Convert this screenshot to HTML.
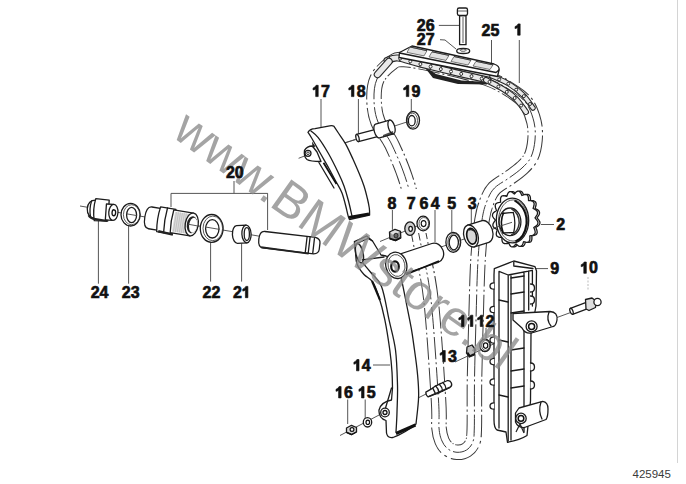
<!DOCTYPE html>
<html><head><meta charset="utf-8"><style>
html,body{margin:0;padding:0;background:#fff;}
svg{display:block;}
</style></head><body>
<svg width="686" height="484" viewBox="0 0 686 484">
<rect width="686" height="484" fill="#fff"/>
<defs><style>
.o{fill:#fff;stroke:#1c1c1c;stroke-width:1.3;stroke-linejoin:round;stroke-linecap:round}
.on{fill:none;stroke:#1c1c1c;stroke-width:1.3;stroke-linejoin:round;stroke-linecap:round}
.t{fill:none;stroke:#333;stroke-width:0.8}
.l{stroke:#555;stroke-width:1;fill:none}
.ax{stroke:#444;stroke-width:0.9;fill:none}
.dk{fill:#222;stroke:none}
.gr{fill:#cfcfcf;stroke:none}
</style></defs>
<line class="l" x1="438.8" y1="25.4" x2="459.2" y2="25.4"/>
<line class="l" x1="491.5" y1="40.0" x2="491.5" y2="65.0"/>
<line class="l" x1="519.3" y1="40.0" x2="519.3" y2="83.0"/>
<line class="l" x1="321.0" y1="99.0" x2="321.0" y2="127.5"/>
<line class="l" x1="358.4" y1="99.0" x2="358.4" y2="134.0"/>
<line class="l" x1="411.3" y1="99.0" x2="411.3" y2="111.5"/>
<line class="l" x1="234.0" y1="181.0" x2="234.0" y2="193.4"/>
<line class="l" x1="171.0" y1="193.4" x2="267.8" y2="193.4"/>
<line class="l" x1="171.0" y1="193.4" x2="171.0" y2="207.0"/>
<line class="l" x1="267.6" y1="193.4" x2="267.6" y2="230.0"/>
<line class="l" x1="98.4" y1="221.0" x2="98.4" y2="283.7"/>
<line class="l" x1="128.6" y1="226.0" x2="128.6" y2="283.7"/>
<line class="l" x1="210.6" y1="241.0" x2="210.6" y2="281.6"/>
<line class="l" x1="241.6" y1="243.4" x2="241.6" y2="281.6"/>
<line class="l" x1="392.4" y1="210.0" x2="392.4" y2="229.8"/>
<line class="l" x1="410.5" y1="210.0" x2="410.5" y2="222.4"/>
<line class="l" x1="424.6" y1="210.0" x2="424.6" y2="216.6"/>
<line class="l" x1="435.0" y1="210.0" x2="435.0" y2="242.0"/>
<line class="l" x1="451.8" y1="210.0" x2="451.8" y2="232.5"/>
<line class="l" x1="471.3" y1="209.0" x2="471.3" y2="224.0"/>
<line class="l" x1="541.0" y1="224.5" x2="554.0" y2="224.5"/>
<line class="l" x1="373.0" y1="365.0" x2="390.0" y2="365.0"/>
<line class="l" x1="347.7" y1="399.5" x2="347.7" y2="424.0"/>
<line class="l" x1="365.2" y1="399.5" x2="365.2" y2="419.5"/>
<line class="l" x1="469.0" y1="328.0" x2="469.0" y2="347.0"/>
<line class="l" x1="486.0" y1="328.0" x2="486.0" y2="338.0"/>
<line class="l" x1="534.8" y1="268.6" x2="548.0" y2="268.6"/>
<path class="l" d="M440,39.7 L445,40 L456,49"/>
<path d="M391.0,63.5 C395.5,60.2 395.8,59.1 404.0,59.5 C412.2,59.9 426.3,62.9 440.0,66.0 C453.7,69.1 474.3,74.0 486.0,78.0 C497.7,82.0 503.3,85.8 510.0,90.0 C516.7,94.2 522.0,97.7 526.0,103.0 C530.0,108.3 532.5,115.8 534.0,122.0 C535.5,128.2 535.5,134.2 535.0,140.0 C534.5,145.8 533.2,152.3 531.0,157.0 C528.8,161.7 525.7,164.5 522.0,168.0 C518.3,171.5 513.6,174.7 509.0,178.0 C504.4,181.3 498.2,184.2 494.5,188.0 C490.8,191.8 489.1,195.7 487.0,201.0 C484.9,206.3 483.5,210.2 482.0,220.0 C480.5,229.8 479.0,243.3 478.0,260.0 C477.0,276.7 476.6,300.0 476.0,320.0 C475.4,340.0 474.8,362.0 474.5,380.0 C474.2,398.0 474.6,417.7 474.3,428.0 C474.0,438.3 474.1,438.3 472.8,442.0 C471.5,445.7 469.1,448.3 466.5,450.0 C463.9,451.7 460.1,452.5 457.0,452.3 C453.9,452.1 450.5,450.9 448.0,449.0 C445.5,447.1 443.5,444.5 442.0,441.0 C440.5,437.5 439.6,434.8 439.0,428.0 C438.4,421.2 439.8,421.3 438.5,400.0 C437.2,378.7 433.9,325.8 431.0,300.0 C428.1,274.2 424.8,264.0 421.0,245.0 C417.2,226.0 412.8,202.7 408.0,186.0 C403.2,169.3 397.0,155.7 392.0,145.0 C387.0,134.3 381.0,129.5 378.0,122.0 C375.0,114.5 374.2,107.2 374.0,100.0 C373.8,92.8 374.2,85.1 377.0,79.0 C379.8,72.9 386.5,66.8 391.0,63.5Z" fill="none" stroke="#3a3a3a" stroke-width="15.5" stroke-dasharray="22 3 2 3"/>
<path d="M391.0,63.5 C395.5,60.2 395.8,59.1 404.0,59.5 C412.2,59.9 426.3,62.9 440.0,66.0 C453.7,69.1 474.3,74.0 486.0,78.0 C497.7,82.0 503.3,85.8 510.0,90.0 C516.7,94.2 522.0,97.7 526.0,103.0 C530.0,108.3 532.5,115.8 534.0,122.0 C535.5,128.2 535.5,134.2 535.0,140.0 C534.5,145.8 533.2,152.3 531.0,157.0 C528.8,161.7 525.7,164.5 522.0,168.0 C518.3,171.5 513.6,174.7 509.0,178.0 C504.4,181.3 498.2,184.2 494.5,188.0 C490.8,191.8 489.1,195.7 487.0,201.0 C484.9,206.3 483.5,210.2 482.0,220.0 C480.5,229.8 479.0,243.3 478.0,260.0 C477.0,276.7 476.6,300.0 476.0,320.0 C475.4,340.0 474.8,362.0 474.5,380.0 C474.2,398.0 474.6,417.7 474.3,428.0 C474.0,438.3 474.1,438.3 472.8,442.0 C471.5,445.7 469.1,448.3 466.5,450.0 C463.9,451.7 460.1,452.5 457.0,452.3 C453.9,452.1 450.5,450.9 448.0,449.0 C445.5,447.1 443.5,444.5 442.0,441.0 C440.5,437.5 439.6,434.8 439.0,428.0 C438.4,421.2 439.8,421.3 438.5,400.0 C437.2,378.7 433.9,325.8 431.0,300.0 C428.1,274.2 424.8,264.0 421.0,245.0 C417.2,226.0 412.8,202.7 408.0,186.0 C403.2,169.3 397.0,155.7 392.0,145.0 C387.0,134.3 381.0,129.5 378.0,122.0 C375.0,114.5 374.2,107.2 374.0,100.0 C373.8,92.8 374.2,85.1 377.0,79.0 C379.8,72.9 386.5,66.8 391.0,63.5Z" fill="none" stroke="#fff" stroke-width="13.5"/>
<path d="M391.0,63.5 C395.5,60.2 395.8,59.1 404.0,59.5 C412.2,59.9 426.3,62.9 440.0,66.0 C453.7,69.1 474.3,74.0 486.0,78.0 C497.7,82.0 503.3,85.8 510.0,90.0 C516.7,94.2 522.0,97.7 526.0,103.0 C530.0,108.3 532.5,115.8 534.0,122.0 C535.5,128.2 535.5,134.2 535.0,140.0 C534.5,145.8 533.2,152.3 531.0,157.0 C528.8,161.7 525.7,164.5 522.0,168.0 C518.3,171.5 513.6,174.7 509.0,178.0 C504.4,181.3 498.2,184.2 494.5,188.0 C490.8,191.8 489.1,195.7 487.0,201.0 C484.9,206.3 483.5,210.2 482.0,220.0 C480.5,229.8 479.0,243.3 478.0,260.0 C477.0,276.7 476.6,300.0 476.0,320.0 C475.4,340.0 474.8,362.0 474.5,380.0 C474.2,398.0 474.6,417.7 474.3,428.0 C474.0,438.3 474.1,438.3 472.8,442.0 C471.5,445.7 469.1,448.3 466.5,450.0 C463.9,451.7 460.1,452.5 457.0,452.3 C453.9,452.1 450.5,450.9 448.0,449.0 C445.5,447.1 443.5,444.5 442.0,441.0 C440.5,437.5 439.6,434.8 439.0,428.0 C438.4,421.2 439.8,421.3 438.5,400.0 C437.2,378.7 433.9,325.8 431.0,300.0 C428.1,274.2 424.8,264.0 421.0,245.0 C417.2,226.0 412.8,202.7 408.0,186.0 C403.2,169.3 397.0,155.7 392.0,145.0 C387.0,134.3 381.0,129.5 378.0,122.0 C375.0,114.5 374.2,107.2 374.0,100.0 C373.8,92.8 374.2,85.1 377.0,79.0 C379.8,72.9 386.5,66.8 391.0,63.5Z" fill="none" stroke="#3a3a3a" stroke-width="1" stroke-dasharray="22 3 2 3"/>
<path fill="#fff" d="M394,189 L426,189 L431,233 L404,233Z"/>
<path class="o" d="M459.6,15.5 L466,15.5 L466,44.7 L459.6,44.7Z"/>
<line class="t" x1="463" y1="17" x2="463" y2="43"/>
<rect class="o" x="457.4" y="8" width="10.1" height="7.5" rx="1.8"/>
<line class="t" x1="458" y1="11" x2="467" y2="11"/>
<ellipse class="o" cx="463.2" cy="50.9" rx="6.5" ry="2.6"/>
<ellipse class="t" cx="463.2" cy="50.2" rx="3" ry="1.1"/>
<line class="ax" x1="80.0" y1="206.0" x2="260.0" y2="236.3"/>
<line class="ax" x1="344.0" y1="143.0" x2="356.4" y2="139.4"/>
<line class="ax" x1="394.5" y1="126.0" x2="410.9" y2="120.7"/>
<line class="ax" x1="298.6" y1="158.3" x2="304.5" y2="156.0"/>
<line class="ax" x1="344.2" y1="143.2" x2="355.0" y2="139.5"/>
<line class="ax" x1="380.0" y1="241.5" x2="428.0" y2="221.5"/>
<line class="ax" x1="441.0" y1="247.0" x2="512.0" y2="222.5"/>
<line class="ax" x1="340.0" y1="435.5" x2="381.0" y2="414.0"/>
<line class="ax" x1="419.0" y1="397.5" x2="430.0" y2="392.0"/>
<line class="ax" x1="455.0" y1="362.0" x2="531.0" y2="326.4"/>
<line class="ax" x1="557.0" y1="317.5" x2="572.0" y2="312.0"/>
<line x1="588" y1="277" x2="588" y2="291" stroke="#bbb" stroke-width="1" stroke-dasharray="2 1.5"/>
<path class="dk" d="M423.6,66 L436,74 L461.5,80.5 L487,82 L487,84.5 L458,84 L433,78 Z"/>
<path d="M387.0,60.5 C388.8,60.1 392.5,57.4 398.0,58.0 C403.5,58.6 410.5,61.6 420.0,64.0 C429.5,66.4 443.7,69.8 455.0,72.5 C466.3,75.2 482.5,78.8 488.0,80.0" fill="none" stroke="#2a2a2a" stroke-width="7" stroke-linecap="round"/><path d="M387.0,60.5 C388.8,60.1 392.5,57.4 398.0,58.0 C403.5,58.6 410.5,61.6 420.0,64.0 C429.5,66.4 443.7,69.8 455.0,72.5 C466.3,75.2 482.5,78.8 488.0,80.0" fill="none" stroke="#e9e9e9" stroke-width="4.8" stroke-linecap="round"/><path d="M390.6,62.7 L389.3,57.0" stroke="#333" stroke-width="1.1"/><circle cx="389.9" cy="59.8" r="1.5" fill="#fff" stroke="#222" stroke-width="0.9"/><path d="M399.4,61.4 L400.9,55.8" stroke="#333" stroke-width="1.1"/><circle cx="400.1" cy="58.6" r="1.5" fill="#fff" stroke="#222" stroke-width="0.9"/><path d="M409.5,64.1 L411.0,58.5" stroke="#333" stroke-width="1.1"/><circle cx="410.3" cy="61.3" r="1.5" fill="#fff" stroke="#222" stroke-width="0.9"/><path d="M419.7,66.9 L421.1,61.3" stroke="#333" stroke-width="1.1"/><circle cx="420.4" cy="64.1" r="1.5" fill="#fff" stroke="#222" stroke-width="0.9"/><path d="M429.9,69.4 L431.3,63.8" stroke="#333" stroke-width="1.1"/><circle cx="430.6" cy="66.6" r="1.5" fill="#fff" stroke="#222" stroke-width="0.9"/><path d="M440.1,71.9 L441.5,66.2" stroke="#333" stroke-width="1.1"/><circle cx="440.8" cy="69.1" r="1.5" fill="#fff" stroke="#222" stroke-width="0.9"/><path d="M450.3,74.4 L451.7,68.7" stroke="#333" stroke-width="1.1"/><circle cx="451.0" cy="71.5" r="1.5" fill="#fff" stroke="#222" stroke-width="0.9"/><path d="M460.6,76.7 L461.9,71.1" stroke="#333" stroke-width="1.1"/><circle cx="461.2" cy="73.9" r="1.5" fill="#fff" stroke="#222" stroke-width="0.9"/><path d="M470.8,79.1 L472.1,73.4" stroke="#333" stroke-width="1.1"/><circle cx="471.5" cy="76.2" r="1.5" fill="#fff" stroke="#222" stroke-width="0.9"/><path d="M481.1,81.4 L482.4,75.7" stroke="#333" stroke-width="1.1"/><circle cx="481.7" cy="78.6" r="1.5" fill="#fff" stroke="#222" stroke-width="0.9"/>
<path d="M389.0,61.5 C387.1,63.7 379.4,72.3 377.5,74.5" fill="none" stroke="#2a2a2a" stroke-width="7.5" stroke-linecap="round"/><path d="M389.0,61.5 C387.1,63.7 379.4,72.3 377.5,74.5" fill="none" stroke="#e9e9e9" stroke-width="5.3" stroke-linecap="round"/>
<path d="M486.0,80.0 C488.8,81.5 498.0,85.8 503.0,89.0 C508.0,92.2 512.2,95.2 516.0,99.0 C519.8,102.8 524.3,109.8 526.0,112.0" fill="none" stroke="#2a2a2a" stroke-width="6" stroke-linecap="round"/><path d="M486.0,80.0 C488.8,81.5 498.0,85.8 503.0,89.0 C508.0,92.2 512.2,95.2 516.0,99.0 C519.8,102.8 524.3,109.8 526.0,112.0" fill="none" stroke="#e9e9e9" stroke-width="3.8" stroke-linecap="round"/><path d="M488.4,84.0 L490.7,79.8" stroke="#333" stroke-width="1.1"/><circle cx="489.5" cy="81.9" r="1.5" fill="#fff" stroke="#222" stroke-width="0.9"/><path d="M497.3,88.7 L499.5,84.4" stroke="#333" stroke-width="1.1"/><circle cx="498.4" cy="86.6" r="1.5" fill="#fff" stroke="#222" stroke-width="0.9"/><path d="M505.3,93.8 L508.2,90.0" stroke="#333" stroke-width="1.1"/><circle cx="506.8" cy="91.9" r="1.5" fill="#fff" stroke="#222" stroke-width="0.9"/><path d="M513.2,99.9 L516.2,96.1" stroke="#333" stroke-width="1.1"/><circle cx="514.7" cy="98.0" r="1.5" fill="#fff" stroke="#222" stroke-width="0.9"/><path d="M519.2,107.1 L523.0,104.2" stroke="#333" stroke-width="1.1"/><circle cx="521.1" cy="105.6" r="1.5" fill="#fff" stroke="#222" stroke-width="0.9"/>
<path d="M492.0,76.0 C494.8,77.3 503.8,80.8 509.0,84.0 C514.2,87.2 519.0,91.0 523.0,95.0 C527.0,99.0 531.3,105.8 533.0,108.0" fill="none" stroke="#2a2a2a" stroke-width="5.5" stroke-linecap="round"/><path d="M492.0,76.0 C494.8,77.3 503.8,80.8 509.0,84.0 C514.2,87.2 519.0,91.0 523.0,95.0 C527.0,99.0 531.3,105.8 533.0,108.0" fill="none" stroke="#e9e9e9" stroke-width="3.3" stroke-linecap="round"/><path d="M498.3,81.4 L500.2,77.5" stroke="#333" stroke-width="1.1"/><circle cx="499.2" cy="79.4" r="1.5" fill="#fff" stroke="#222" stroke-width="0.9"/><path d="M507.4,85.6 L509.2,81.7" stroke="#333" stroke-width="1.1"/><circle cx="508.3" cy="83.7" r="1.5" fill="#fff" stroke="#222" stroke-width="0.9"/><path d="M514.9,91.4 L517.6,88.0" stroke="#333" stroke-width="1.1"/><circle cx="516.2" cy="89.7" r="1.5" fill="#fff" stroke="#222" stroke-width="0.9"/><path d="M522.2,97.4 L525.6,94.8" stroke="#333" stroke-width="1.1"/><circle cx="523.9" cy="96.1" r="1.5" fill="#fff" stroke="#222" stroke-width="0.9"/><path d="M528.3,105.4 L531.7,102.7" stroke="#333" stroke-width="1.1"/><circle cx="530.0" cy="104.0" r="1.5" fill="#fff" stroke="#222" stroke-width="0.9"/>
<path class="o" d="M399.5,52.5 L412,46 L494,64 Q500,66 499,70 L497.5,76.5 L399,57.5 Z"/>
<path class="on" stroke-width="1.1" d="M399.5,53 L496,72.5 L499,70"/>
<path d="M410.0,47.0 L427.0,50.7 L424.0,55.9 L407.0,52.4Z" fill="#e2e2e2" stroke="#444" stroke-width="0.7"/>
<path d="M410.0,47.0 L427.0,50.7" stroke="#333" stroke-width="0.9"/>
<path d="M432.0,51.8 L449.0,55.4 L446.0,60.4 L429.0,56.9Z" fill="#e2e2e2" stroke="#444" stroke-width="0.7"/>
<path d="M432.0,51.8 L449.0,55.4" stroke="#333" stroke-width="0.9"/>
<path d="M454.0,56.5 L471.0,60.2 L468.0,65.0 L451.0,61.5Z" fill="#e2e2e2" stroke="#444" stroke-width="0.7"/>
<path d="M454.0,56.5 L471.0,60.2" stroke="#333" stroke-width="0.9"/>
<path d="M476.0,61.3 L493.0,64.9 L490.0,69.5 L473.0,66.0Z" fill="#e2e2e2" stroke="#444" stroke-width="0.7"/>
<path d="M476.0,61.3 L493.0,64.9" stroke="#333" stroke-width="0.9"/>
<g transform="translate(357.5,138.0) rotate(-14.53)"><path class="o" d="M0,-3.7 L22.7,-3.7 A1.5,3.7 0 0 1 22.7,3.7 L0,3.7Z"/><ellipse class="o" cx="0" cy="0" rx="1.5" ry="3.7"/></g>
<g transform="translate(377.5,131.0) rotate(-15.95)"><path class="o" d="M0,-7.2 L14.6,-7.2 L14.6,7.2 L0,7.2 A3.2,7.2 0 0 1 0,-7.2Z"/><ellipse class="o" cx="14.6" cy="0" rx="3.2" ry="7.2"/></g>
<path class="dk" d="M383,137.5 L393.5,133.5 L393,131 L383,135Z" opacity="0.8"/>
<ellipse class="o" cx="413" cy="120.3" rx="6.5" ry="8.8"/>
<ellipse class="t" cx="412.3" cy="120.5" rx="5.2" ry="7.4"/>
<ellipse class="o" cx="411.8" cy="120.7" rx="3.4" ry="5.2"/>
<path class="o" d="M308,132.3 Q310,128.8 315,128.6 L329.7,125.8 Q332.5,125.3 334,126.3  C334.7,127.4 336.5,130.1 338.4,133.0 C340.3,135.9 343.2,139.6 345.6,143.9 C348.0,148.2 350.7,154.2 352.9,159.0 C355.1,163.8 357.1,168.5 359.0,173.0 C360.9,177.5 362.6,181.7 364.0,186.0 C365.4,190.3 366.6,195.3 367.5,199.0 C368.4,202.7 368.9,205.3 369.3,208.0 C369.7,210.7 369.6,213.8 369.6,215.0 L349.4,219.5  C348.1,217.4 347.1,211.4 346.0,207.0 C344.9,202.6 343.6,197.2 342.0,193.0 C340.4,188.8 338.4,186.1 336.2,182.0 C334.0,177.9 331.6,173.3 329.0,168.5 C326.4,163.7 323.2,158.4 320.3,153.3 C317.4,148.2 313.7,141.5 311.6,138.0 C309.6,134.5 308.6,133.2 308.0,132.3Z"/>
<path class="on" stroke-width="0.8" stroke="#555" d="M311.0,131.0 C312.2,132.1 315.1,133.7 318.0,137.4 C320.9,141.1 324.9,147.4 328.3,153.3 C331.7,159.2 335.8,167.6 338.4,173.0 C341.0,178.4 342.3,181.3 344.0,186.0 C345.7,190.7 347.2,196.0 348.5,201.0 C349.8,206.0 351.4,213.5 352.0,216.0"/>
<path d="M349,217.5 L369,214" stroke="#111" stroke-width="3" fill="none"/>
<path class="o" d="M312.4,146 Q307,146 304.5,150.4 Q303.5,156.5 307,159.5 Q310,161.5 321,161.5 L317,152 Z"/>
<circle class="o" cx="308" cy="153.3" r="3"/>
<circle cx="308" cy="153.3" r="1.3" fill="#fff" stroke="#222" stroke-width="0.9"/>
<path class="dk" d="M312,141.5 L315.5,146.5 L312.5,147.5Z"/>
<path class="on" stroke-width="0.9" d="M318.9,162.5 L334,188"/>
<path d="M323.5,162.8 L331,175 L336.5,184" stroke="#111" stroke-width="1.8" fill="none"/>
<g transform="rotate(4 100 210)">
<path class="o" d="M96,200.5 L96,218.5 Q87.5,218.5 87.2,209.5 Q87.5,200.5 96,200.5Z"/>
<path class="on" stroke-width="0.8" d="M91,201.5 Q89,209.5 91,217.5"/>
<path class="o" d="M95,199 L108.5,199.5 L108.5,220.5 L95,221 Q92.5,210 95,199Z"/>
<path class="o" d="M106,203.5 L113,203.5 L113,219.5 L106,219.5Z"/>
<path d="M89,216 Q91,219 96,219.5 L108,220.5" stroke="#222" stroke-width="2.2" fill="none"/>
<ellipse class="o" cx="113.5" cy="211.5" rx="4.6" ry="8"/>
<ellipse cx="114" cy="211.8" rx="1.8" ry="3" fill="#fff" stroke="#111" stroke-width="1.3"/>
</g>
<ellipse class="o" cx="130.6" cy="214.7" rx="9.6" ry="11.3"/>
<ellipse class="t" cx="131.6" cy="214.7" rx="8.2" ry="10"/>
<ellipse class="o" cx="131.6" cy="215" rx="5" ry="7.7"/>
<g transform="rotate(9 170 221)">
<path class="o" d="M150,210 L160,210 L160,232 L150,232 Q144.5,232 144.5,221 Q144.5,210 150,210Z"/>
<path class="o" d="M158.5,208.5 L174,208.5 L174,233.5 L158.5,233.5 Q156.5,221 158.5,208.5Z"/>
<path class="on" stroke-width="0.8" d="M165.5,208.5 Q164,221 165.5,233.5"/>
<path class="o" d="M172,209.5 L192,209.5 L192,232.5 L172,232.5 Q170.5,221 172,209.5Z"/>
<path class="gr" style="fill:#dcdcdc" d="M173.5,211 L189,211 L189,231 L173.5,231Z"/>
<line x1="175" y1="211" x2="175" y2="231" stroke="#aaa" stroke-width="0.5"/>
<line x1="177" y1="211" x2="177" y2="231" stroke="#aaa" stroke-width="0.5"/>
<line x1="179" y1="211" x2="179" y2="231" stroke="#aaa" stroke-width="0.5"/>
<line x1="181" y1="211" x2="181" y2="231" stroke="#aaa" stroke-width="0.5"/>
<line x1="183" y1="211" x2="183" y2="231" stroke="#aaa" stroke-width="0.5"/>
<line x1="185" y1="211" x2="185" y2="231" stroke="#aaa" stroke-width="0.5"/>
<line x1="187" y1="211" x2="187" y2="231" stroke="#aaa" stroke-width="0.5"/>
<path d="M160,233 L175,234" stroke="#222" stroke-width="2.5" fill="none"/>
<ellipse class="o" cx="192" cy="221" rx="6.5" ry="11.5"/>
<ellipse cx="192.3" cy="221.2" rx="5.2" ry="8.6" fill="#222"/>
<ellipse cx="193.5" cy="221.5" rx="4" ry="7.6" fill="#fff"/>
</g>
<ellipse class="o" cx="211.7" cy="228.4" rx="11.4" ry="13.9"/>
<ellipse class="t" cx="212.8" cy="228.4" rx="9.8" ry="12.3"/>
<ellipse class="o" cx="212.3" cy="228.8" rx="6.7" ry="9.2"/>
<g transform="translate(237.0,234.5) rotate(-3.01)"><path class="o" d="M0,-8.8 L9.5,-8.8 L9.5,8.8 L0,8.8 A4.6,8.8 0 0 1 0,-8.8Z"/><ellipse class="o" cx="9.5" cy="0" rx="4.6" ry="8.8"/></g>
<ellipse class="o" cx="246.8" cy="234.1" rx="2.6" ry="6.4"/>
<path class="ax" d="M126.5,213.8 L136.8,215.6 M188,224.2 L199,226.2 M205.5,227 L219.5,229.4"/>
<g transform="rotate(6.7 259.5 239.2)">
<path class="o" d="M264,230.9 L315,230.9 Q320,232 320,236 L320,242.5 Q320,246.5 315,247.5 L264,247.5 Q258.8,247.5 258.8,239.2 Q258.8,230.9 264,230.9Z"/>
<path class="on" stroke-width="0.9" d="M306.5,231 L306.5,247.5 M309.5,231 L309.5,247.5 M314,232 L314,247"/>
<path d="M262,247 L310,247.8" stroke="#222" stroke-width="1.8" fill="none"/>
</g>
<path class="o" d="M354.4,241.7 C354.6,243.4 355.1,248.3 355.5,252.0 C355.9,255.7 355.6,260.2 357.0,264.0 C358.4,267.8 361.4,271.6 364.0,274.5 C366.6,277.4 370.0,278.2 372.4,281.6 C374.8,285.0 376.1,288.5 378.2,294.8 C380.3,301.1 382.9,310.4 384.8,319.6 C386.7,328.8 388.6,341.3 389.8,350.0 C391.0,358.7 391.6,365.7 392.0,372.0 C392.4,378.3 392.4,385.3 392.5,388.0 L391.5,400 Q381,402 379,410 Q378.5,418 386,420.5 L386.5,433 Q387.5,438.5 393,437.5 Q405,433 416,424  C416.4,419.5 418.4,405.3 418.6,397.0 C418.9,388.7 418.2,381.8 417.5,374.0 C416.8,366.2 415.6,357.7 414.5,350.0 C413.4,342.3 412.6,335.7 411.2,327.9 C409.8,320.1 407.9,311.3 406.3,303.0 C404.7,294.7 402.7,285.1 401.3,278.3 C399.9,271.5 398.6,264.7 398.0,262.0 L386,256 L381,255 L372.5,241 L366.7,236 Z"/>
<path class="on" stroke-width="1" d="M391.5,388 L385.5,408"/>
<path class="on" stroke-width="0.8" stroke="#666" d="M357.4,243.0 C357.7,244.8 358.4,251.1 359.0,254.0 C359.6,256.9 359.1,257.4 361.0,260.4 C362.9,263.4 367.0,267.6 370.4,272.0 C373.8,276.4 378.4,278.6 381.5,286.5 C384.6,294.4 386.7,309.0 389.0,319.6 C391.3,330.2 394.1,339.1 395.5,350.0 C396.9,360.9 397.2,374.7 397.5,385.0 C397.8,395.3 397.2,404.2 397.0,412.0 C396.8,419.8 396.2,428.7 396.0,432.0"/>
<path d="M396,433.5 L415.5,425" stroke="#111" stroke-width="3" fill="none"/>
<path d="M372,281 L380,300" stroke="#111" stroke-width="2" fill="none"/>
<ellipse cx="359.4" cy="253.2" rx="3.6" ry="10" transform="rotate(-12 359.4 253.2)" fill="#eee" stroke="#222" stroke-width="1.5"/>
<path class="on" stroke-width="0.9" d="M362.3,259.8 L384,257 M358,243 L368,238.5 L372.5,241"/>
<circle class="o" cx="385" cy="412.5" r="4.3"/>
<circle cx="385" cy="412.5" r="2" fill="#fff" stroke="#111" stroke-width="1.3"/>
<path class="o" d="M389.5,232 L395,229.3 L400.5,231.3 L400.8,238 L395.5,240.6 L389.8,238.8Z" style="fill:#9a9a9a"/>
<path d="M390.5,232.3 L395,230.3 L399.5,231.8 L396.5,234 L392,234.5Z" fill="#e0e0e0"/>
<path d="M390,238.5 L395.5,240.3 L400.5,237.8" stroke="#111" stroke-width="1.6" fill="none"/>
<ellipse cx="396" cy="235.6" rx="2" ry="2.4" fill="#666" stroke="#111" stroke-width="0.8"/>
<ellipse class="o" cx="410" cy="228.6" rx="5.2" ry="6.8" style="fill:#d0d0d0"/>
<ellipse cx="410.6" cy="228.8" rx="1.8" ry="2.5" fill="#fff" stroke="#111" stroke-width="1.2"/>
<ellipse class="o" cx="423.2" cy="223.5" rx="6.2" ry="7.3"/>
<ellipse class="t" cx="423.8" cy="223.5" rx="4.8" ry="6"/>
<ellipse cx="423.6" cy="223.6" rx="2.4" ry="3" fill="#fff" stroke="#111" stroke-width="1.1"/>
<g transform="translate(397.0,265.5) rotate(-18.21)"><path class="o" d="M0,-10.0 L40.0,-10.0 A8.5,10.0 0 0 1 40.0,10.0 L0,10.0Z"/><ellipse class="o" cx="0" cy="0" rx="8.5" ry="10.0"/></g>
<path d="M406,274.5 L439,261" stroke="#111" stroke-width="1.8" fill="none"/>
<ellipse class="o" cx="396.3" cy="265.3" rx="10.5" ry="13.3" transform="rotate(-12 396.3 265.3)"/>
<ellipse class="t" cx="396.5" cy="265.5" rx="8.4" ry="11" transform="rotate(-12 396.5 265.5)"/>
<ellipse cx="395" cy="266.5" rx="3.8" ry="5.2" fill="#fff" stroke="#111" stroke-width="2.2"/>
<ellipse class="o" cx="453.3" cy="242.3" rx="7.4" ry="10"/>
<ellipse class="t" cx="454" cy="242.3" rx="6.2" ry="8.8"/>
<ellipse class="o" cx="453.8" cy="242.5" rx="4.6" ry="7.3"/>
<g transform="translate(471.0,236.0) rotate(-17.24)"><path class="o" d="M0,-11.3 L15.2,-11.3 A7.0,11.3 0 0 1 15.2,11.3 L0,11.3Z"/><ellipse class="o" cx="0" cy="0" rx="7.0" ry="11.3"/></g>
<ellipse cx="471.6" cy="236.2" rx="4.8" ry="8" fill="#d8d8d8" stroke="#111" stroke-width="1.6" transform="rotate(-12 471.6 236.2)"/>
<path d="M468.5,230 Q471,228.5 474,231" stroke="#222" stroke-width="1.5" fill="none"/>
<path class="o" d="M539.9,223.2 L539.6,224.3 L538.9,225.2 L537.9,226.1 L536.8,226.8 L535.8,227.5 L536.3,228.7 L536.8,230.0 L537.1,231.3 L537.2,232.5 L536.9,233.6 L536.3,234.4 L535.3,235.0 L534.2,235.4 L532.9,235.6 L531.8,235.8 L531.9,237.1 L531.9,238.5 L531.8,239.8 L531.4,240.9 L530.9,241.7 L530.0,242.2 L529.0,242.3 L527.8,242.2 L526.7,241.9 L525.6,241.6 L525.2,242.7 L524.8,244.0 L524.2,245.1 L523.5,245.9 L522.7,246.4 L521.8,246.4 L520.8,246.1 L519.9,245.5 L519.0,244.7 L518.1,244.0 L517.3,244.8 L516.5,245.7 L515.6,246.4 L514.7,246.8 L513.8,246.9 L512.9,246.5 L512.2,245.8 L511.5,244.7 L511.0,243.6 L510.5,242.5 L509.5,242.9 L508.3,243.3 L507.2,243.6 L506.2,243.5 L505.3,243.1 L504.7,242.4 L504.2,241.3 L504.0,240.1 L503.9,238.7 L503.9,237.5 L502.7,237.4 L501.5,237.3 L500.4,237.0 L499.4,236.5 L498.7,235.7 L498.3,234.7 L498.3,233.5 L498.5,232.2 L498.9,230.9 L499.3,229.6 L498.2,229.0 L497.1,228.4 L496.1,227.7 L495.3,226.8 L494.9,225.8 L494.9,224.7 L495.2,223.5 L495.9,222.3 L496.7,221.2 L497.4,220.2 L496.6,219.2 L495.7,218.1 L495.0,217.0 L494.5,215.9 L494.5,214.8 L494.8,213.7 L495.5,212.8 L496.5,211.9 L497.6,211.2 L498.6,210.5 L498.1,209.3 L497.6,208.0 L497.3,206.7 L497.2,205.5 L497.5,204.4 L498.1,203.6 L499.1,203.0 L500.2,202.6 L501.5,202.4 L502.6,202.2 L502.5,200.9 L502.5,199.5 L502.6,198.2 L503.0,197.1 L503.5,196.3 L504.4,195.8 L505.4,195.7 L506.6,195.8 L507.7,196.1 L508.8,196.4 L509.2,195.3 L509.6,194.0 L510.2,192.9 L510.9,192.1 L511.7,191.6 L512.6,191.6 L513.6,191.9 L514.5,192.5 L515.4,193.3 L516.3,194.0 L517.1,193.2 L517.9,192.3 L518.8,191.6 L519.7,191.2 L520.6,191.1 L521.5,191.5 L522.2,192.2 L522.9,193.3 L523.4,194.4 L523.9,195.5 L524.9,195.1 L526.1,194.7 L527.2,194.4 L528.2,194.5 L529.1,194.9 L529.7,195.6 L530.2,196.7 L530.4,197.9 L530.5,199.3 L530.5,200.5 L531.7,200.6 L532.9,200.7 L534.0,201.0 L535.0,201.5 L535.7,202.3 L536.1,203.3 L536.1,204.5 L535.9,205.8 L535.5,207.1 L535.1,208.4 L536.2,209.0 L537.3,209.6 L538.3,210.3 L539.1,211.2 L539.5,212.2 L539.5,213.3 L539.2,214.5 L538.5,215.7 L537.7,216.8 L537.0,217.8 L537.8,218.8 L538.7,219.9 L539.4,221.0 L539.9,222.1Z"/>
<path class="o" d="M537.9,223.2 L537.6,224.3 L536.9,225.2 L535.9,226.1 L534.8,226.8 L533.8,227.5 L534.3,228.7 L534.8,230.0 L535.1,231.3 L535.2,232.5 L534.9,233.6 L534.3,234.4 L533.3,235.0 L532.2,235.4 L530.9,235.6 L529.8,235.8 L529.9,237.1 L529.9,238.5 L529.8,239.8 L529.4,240.9 L528.9,241.7 L528.0,242.2 L527.0,242.3 L525.8,242.2 L524.7,241.9 L523.6,241.6 L523.2,242.7 L522.8,244.0 L522.2,245.1 L521.5,245.9 L520.7,246.4 L519.8,246.4 L518.8,246.1 L517.9,245.5 L517.0,244.7 L516.1,244.0 L515.3,244.8 L514.5,245.7 L513.6,246.4 L512.7,246.8 L511.8,246.9 L510.9,246.5 L510.2,245.8 L509.5,244.7 L509.0,243.6 L508.5,242.5 L507.5,242.9 L506.3,243.3 L505.2,243.6 L504.2,243.5 L503.3,243.1 L502.7,242.4 L502.2,241.3 L502.0,240.1 L501.9,238.7 L501.9,237.5 L500.7,237.4 L499.5,237.3 L498.4,237.0 L497.4,236.5 L496.7,235.7 L496.3,234.7 L496.3,233.5 L496.5,232.2 L496.9,230.9 L497.3,229.6 L496.2,229.0 L495.1,228.4 L494.1,227.7 L493.3,226.8 L492.9,225.8 L492.9,224.7 L493.2,223.5 L493.9,222.3 L494.7,221.2 L495.4,220.2 L494.6,219.2 L493.7,218.1 L493.0,217.0 L492.5,215.9 L492.5,214.8 L492.8,213.7 L493.5,212.8 L494.5,211.9 L495.6,211.2 L496.6,210.5 L496.1,209.3 L495.6,208.0 L495.3,206.7 L495.2,205.5 L495.5,204.4 L496.1,203.6 L497.1,203.0 L498.2,202.6 L499.5,202.4 L500.6,202.2 L500.5,200.9 L500.5,199.5 L500.6,198.2 L501.0,197.1 L501.5,196.3 L502.4,195.8 L503.4,195.7 L504.6,195.8 L505.7,196.1 L506.8,196.4 L507.2,195.3 L507.6,194.0 L508.2,192.9 L508.9,192.1 L509.7,191.6 L510.6,191.6 L511.6,191.9 L512.5,192.5 L513.4,193.3 L514.3,194.0 L515.1,193.2 L515.9,192.3 L516.8,191.6 L517.7,191.2 L518.6,191.1 L519.5,191.5 L520.2,192.2 L520.9,193.3 L521.4,194.4 L521.9,195.5 L522.9,195.1 L524.1,194.7 L525.2,194.4 L526.2,194.5 L527.1,194.9 L527.7,195.6 L528.2,196.7 L528.4,197.9 L528.5,199.3 L528.5,200.5 L529.7,200.6 L530.9,200.7 L532.0,201.0 L533.0,201.5 L533.7,202.3 L534.1,203.3 L534.1,204.5 L533.9,205.8 L533.5,207.1 L533.1,208.4 L534.2,209.0 L535.3,209.6 L536.3,210.3 L537.1,211.2 L537.5,212.2 L537.5,213.3 L537.2,214.5 L536.5,215.7 L535.7,216.8 L535.0,217.8 L535.8,218.8 L536.7,219.9 L537.4,221.0 L537.9,222.1Z"/>
<ellipse class="o" cx="512.5" cy="220.5" rx="16.2" ry="22.3"/>
<ellipse class="t" cx="513.1" cy="220.5" rx="14.6" ry="20.6"/>
<path d="M514.5,200.5 Q527.5,208 526.5,224 Q524.5,238 515.5,241.5" stroke="#111" stroke-width="2" fill="none"/>
<ellipse class="o" cx="510" cy="221.8" rx="10.9" ry="13.8"/>
<path d="M511.2,208.5 Q519.2,213 519.2,223 Q518.2,232 511.2,235" stroke="#333" stroke-width="1.5" fill="none"/>
<path class="on" stroke-width="1" d="M502.2,213.5 L513.2,212.3 M502.7,233 L513.7,232.5 M513.2,212.3 Q516.2,222 513.7,232.5"/>
<path d="M503.7,212.5 Q499.2,222 503.2,233" stroke="#111" stroke-width="1.6" fill="none"/>
<line class="ax" x1="494.0" y1="228.0" x2="512.0" y2="222.3"/>
<path class="o" d="M494.3,268.6 L513.8,261 L535,266.7 L536.5,271 L536,306 L531,333 L530.5,401 L527,435.5 Q520,440 507.5,442.3 L506,432 L497,430 Q494,428 494,420 L494,275 Z"/>
<path class="on" stroke-width="1" d="M499,271.4 L499,428 M499,271.4 L508.2,275 L532.4,270.4 M508.2,275 L508.2,441 M511,276 L511,440 M524,272 L524,432 M528.7,271 L528.7,310 M532.4,270.4 L532.4,306 M513.8,262 L513.8,266 L533,268.5"/>
<path class="on" stroke-width="0.9" d="M511,278 L524,276 M511,294 L524,292 M511,313 L524,311 M511,350 L524,348 M511,371 L524,369 M511,388 L524,386 M499,300 L508,302 M499,340 L508,342 M499,395 L508,397"/>
<path class="o" d="M494,282.8 Q490,282.8 490,286 Q490,289.2 494,289.2"/>
<path class="o" d="M494,306.3 Q490,306.3 490,309.5 Q490,312.7 494,312.7"/>
<path class="o" d="M494,336.8 Q490,336.8 490,340 Q490,343.2 494,343.2"/>
<path class="o" d="M494,358.40000000000003 Q490,358.40000000000003 490,361.6 Q490,364.8 494,364.8"/>
<path class="o" d="M494,378.8 Q490,378.8 490,382 Q490,385.2 494,385.2"/>
<path class="o" d="M494,402.8 Q490,402.8 490,406 Q490,409.2 494,409.2"/>
<path class="o" d="M530.5,363 Q534.5,363 534.5,367 Q534.5,371 530.5,371"/>
<path class="o" d="M530.5,381 Q534.5,381 534.5,385 Q534.5,389 530.5,389"/>
<path class="o" d="M530.5,296 Q534.5,296 534.5,300 Q534.5,304 530.5,304"/>
<path class="o" d="M530.5,284 Q534.5,284 534.5,288 Q534.5,292 530.5,292"/>
<path class="o" d="M513,313.5 L550,311.5 Q558,312 557,320 Q556,326 553,326.5 L531.6,333 Q525,334 522,328 L513,320Z"/>
<path class="on" stroke-width="1" d="M549,312 Q546,320 551,326"/>
<circle class="o" cx="531.6" cy="326.4" r="5.5"/>
<circle cx="531.6" cy="326.4" r="3" fill="#fff" stroke="#111" stroke-width="1.5"/>
<path class="o" d="M515.5,413 L519,408 L542.7,401.4 Q548,402 548,409 Q548,417 546,419.5 L524.5,427.5 Q518,428 515.5,422Z"/>
<path class="on" stroke-width="1" d="M541,402 Q538,411 542,419"/>
<circle class="o" cx="521" cy="418.4" r="5.2"/>
<circle cx="521" cy="418.4" r="2.8" fill="#fff" stroke="#111" stroke-width="1.5"/>
<path d="M516,432 L520,424 L524,433" stroke="#222" stroke-width="1.2" fill="none"/>
<g transform="translate(571.5,311.3) rotate(-20.29)"><path class="o" d="M0,-3.2 L17.6,-3.2 A1.4,3.2 0 0 1 17.6,3.2 L0,3.2Z"/><ellipse class="o" cx="0" cy="0" rx="1.4" ry="3.2"/></g>
<path class="o" d="M585.5,299.5 L592,298 L596,301 L595.5,307.5 L589,310.5 L586,309Z" style="fill:#ddd"/>
<circle class="o" cx="597.5" cy="302" r="3.6"/>
<ellipse class="o" cx="485" cy="345.4" rx="5.3" ry="6.2" stroke-width="1"/>
<ellipse class="t" cx="485.6" cy="345.4" rx="4" ry="5"/>
<ellipse cx="485.6" cy="345.6" rx="2.2" ry="2.7" fill="#fff" stroke="#111" stroke-width="1.2"/>
<path class="o" d="M467,347 L472,345 L475,349 L474.5,355 L469.5,357 L466.5,353Z" style="fill:#bdbdbd"/>
<path d="M467.5,352.5 L470,356 L474,354" stroke="#111" stroke-width="1.5" fill="none"/>
<g transform="translate(427,394.5) rotate(-26)"><path class="o" d="M0,-2.6 L8,-3.2 L10,-3.8 L18,-3.8 Q19.5,-4 24,-3.6 Q27,-3 27,0 Q27,3 24,3.6 L18,3.8 L10,3.8 L8,3.2 L0,2.6 Q-1.5,0 0,-2.6Z"/><path class="on" stroke-width="0.9" d="M8,-3.2 L8,3.2 M11.5,-3.8 Q13,0 11.5,3.8 M15.5,-3.8 Q17,0 15.5,3.8 M19.5,-3.8 Q21,0 19.5,3.8"/><path d="M1,2.6 L24,3.6" stroke="#222" stroke-width="1.5"/></g>
<ellipse class="o" cx="367.5" cy="422.3" rx="4.2" ry="4.7"/>
<ellipse cx="367.8" cy="422.3" rx="1.8" ry="2.2" fill="#fff" stroke="#111" stroke-width="1.2"/>
<path class="o" d="M346.5,428 L351.5,425.3 L356.5,427.5 L356.5,432 L351.5,434.7 L346.5,432.5Z" style="fill:#d8d8d8"/>
<path d="M347,432.5 L351.5,434.5 L356.3,432" stroke="#111" stroke-width="1.4" fill="none"/>
<circle cx="352" cy="429.5" r="1.9" fill="#fff" stroke="#111" stroke-width="1.2"/>
<line x1="677.5" y1="0" x2="677.5" y2="463" stroke="#d4d4d4" stroke-width="1"/>
<text x="651.7" y="478.2" text-anchor="middle" font-family="Liberation Sans, sans-serif" font-size="11.5" fill="#3a3a3a">425945</text>
<text transform="translate(170.8,135.7) rotate(35.5)" font-family="Liberation Sans, sans-serif" font-size="50" fill="#8a8a8a" fill-opacity="0.78">www.BMWstore.bl</text>
<g font-family="Liberation Sans, sans-serif" font-weight="bold" font-size="16" fill="#111" stroke="#111" stroke-width="0.65">
<text x="416.85" y="31.20">2</text><text x="425.75" y="31.20">6</text>
<text x="416.85" y="45.20">2</text><text x="425.75" y="45.20">7</text>
<text x="481.50" y="35.70">2</text><text x="490.40" y="35.70">5</text>
<path d="M517.65,35.20 L520.15,35.20 L520.15,23.90 L518.05,23.90 Q517.35,25.90 515.05,26.60 L515.05,28.60 Q516.75,28.30 517.65,27.50 Z"/>
<path d="M315.70,96.60 L318.20,96.60 L318.20,85.30 L316.10,85.30 Q315.40,87.30 313.10,88.00 L313.10,90.00 Q314.80,89.70 315.70,88.90 Z"/><text x="321.00" y="96.60">7</text>
<path d="M351.45,96.60 L353.95,96.60 L353.95,85.30 L351.85,85.30 Q351.15,87.30 348.85,88.00 L348.85,90.00 Q350.55,89.70 351.45,88.90 Z"/><text x="356.75" y="96.60">8</text>
<path d="M406.30,96.60 L408.80,96.60 L408.80,85.30 L406.70,85.30 Q406.00,87.30 403.70,88.00 L403.70,90.00 Q405.40,89.70 406.30,88.90 Z"/><text x="411.60" y="96.60">9</text>
<text x="225.90" y="178.10">2</text><text x="234.80" y="178.10">0</text>
<text x="387.60" y="208.90">8</text>
<text x="406.80" y="208.90">7</text>
<text x="419.60" y="208.90">6</text>
<text x="430.70" y="208.90">4</text>
<text x="447.25" y="208.90">5</text>
<text x="467.65" y="208.90">3</text>
<text x="556.20" y="230.30">2</text>
<text x="550.30" y="273.80">9</text>
<path d="M583.80,273.30 L586.30,273.30 L586.30,262.00 L584.20,262.00 Q583.50,264.00 581.20,264.70 L581.20,266.70 Q582.90,266.40 583.80,265.60 Z"/><text x="589.10" y="273.30">0</text>
<text x="90.70" y="297.80">2</text><text x="99.60" y="297.80">4</text>
<text x="121.75" y="297.80">2</text><text x="130.65" y="297.80">3</text>
<text x="202.50" y="298.20">2</text><text x="211.40" y="298.20">2</text>
<text x="232.90" y="297.70">2</text><path d="M245.40,297.70 L247.90,297.70 L247.90,286.40 L245.80,286.40 Q245.10,288.40 242.80,289.10 L242.80,291.10 Q244.50,290.80 245.40,290.00 Z"/>
<path d="M461.45,326.50 L463.95,326.50 L463.95,315.20 L461.85,315.20 Q461.15,317.20 458.85,317.90 L458.85,319.90 Q460.55,319.60 461.45,318.80 Z"/><path d="M470.35,326.50 L472.85,326.50 L472.85,315.20 L470.75,315.20 Q470.05,317.20 467.75,317.90 L467.75,319.90 Q469.45,319.60 470.35,318.80 Z"/>
<path d="M480.25,326.50 L482.75,326.50 L482.75,315.20 L480.65,315.20 Q479.95,317.20 477.65,317.90 L477.65,319.90 Q479.35,319.60 480.25,318.80 Z"/><text x="485.55" y="326.50">2</text>
<path d="M442.75,361.80 L445.25,361.80 L445.25,350.50 L443.15,350.50 Q442.45,352.50 440.15,353.20 L440.15,355.20 Q441.85,354.90 442.75,354.10 Z"/><text x="448.05" y="361.80">3</text>
<path d="M356.50,370.80 L359.00,370.80 L359.00,359.50 L356.90,359.50 Q356.20,361.50 353.90,362.20 L353.90,364.20 Q355.60,363.90 356.50,363.10 Z"/><text x="361.80" y="370.80">4</text>
<path d="M338.60,397.90 L341.10,397.90 L341.10,386.60 L339.00,386.60 Q338.30,388.60 336.00,389.30 L336.00,391.30 Q337.70,391.00 338.60,390.20 Z"/><text x="343.90" y="397.90">6</text>
<path d="M361.55,397.90 L364.05,397.90 L364.05,386.60 L361.95,386.60 Q361.25,388.60 358.95,389.30 L358.95,391.30 Q360.65,391.00 361.55,390.20 Z"/><text x="366.85" y="397.90">5</text>
</g>
</svg>
</body></html>
